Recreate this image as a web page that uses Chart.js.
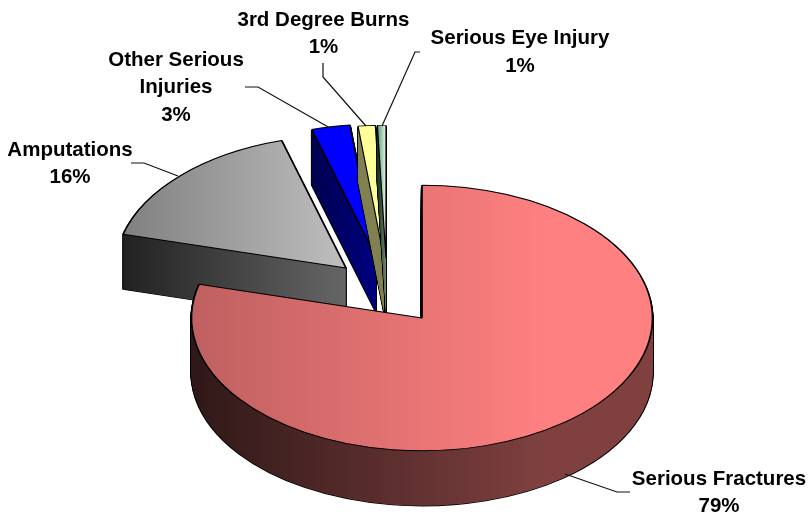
<!DOCTYPE html>
<html lang="en">

<head>
  <script src="https://cdn.jsdelivr.net/npm/chart.js@4"></script>
  <style>
    html, body {
      margin: 0;
      padding: 0;
      background: #fff;
      overflow: hidden;
    }
    canvas {
      display: block;
    }
  </style>
</head>

<body>
  <canvas id="injuryPie" width="809" height="517"></canvas>

  <script>
    // the labels show them rounded
    const categories = ['Serious Fractures', 'Amputations', 'Other Serious Injuries', '3rd Degree Burns', 'Serious Eye Injury'];
    const injuryShare = [79.1, 16.4, 2.7, 1.2, 0.6];

    // look of the slices, same order as categories
    const explodeX = [0, -76, -46, -38, -36];
    const explodeY = [0, -50, -61, -60, -60];
    const topColors = [['#bf6060', '#ff8080'], ['#808080', '#bfbfbf'], ['#0000ff', '#0000ff'], ['#ffff99', '#ffff99'], ['#5f9f7f', '#d8f0d8']];
    const sideColors = [['#301818', '#804040'], ['#222222', '#666666'], ['#000050', '#000080'], ['#808050', '#808050'], ['#1a3020', '#668066']];
    const gradientSpan = [[192, 545], [124, 346], [313, 376], [358, 384], [378, 385]];
    const edgeWidth = [1.7, 1.7, 1.7, 1.2, 1.2];

    const squash = 0.576;
    const depth = 55;
    const pieRadius = 230.5;

    // text lines: x centre, y centre; leader: polyline from the label to the slice
    const labelLayout = [
      { x: 719, lines: [{ y: 479 }, { y: 506 }], name: ['Serious Fractures'], leader: [[630, 492], [617, 492], [565, 474]] },
      { x: 70, lines: [{ y: 150 }, { y: 177 }], name: ['Amputations'], leader: [[131, 163], [144, 163], [178, 176]] },
      { x: 176, lines: [{ y: 60 }, { y: 87 }, { y: 115 }], name: ['Other Serious', 'Injuries'], leader: [[245, 87], [258, 87], [330, 128]] },
      { x: 323.5, lines: [{ y: 20 }, { y: 47 }], name: ['3rd Degree Burns'], leader: [[323, 63], [323, 77], [366, 126]] },
      { x: 520, lines: [{ y: 38 }, { y: 66 }], name: ['Serious Eye Injury'], leader: [[420, 52], [415, 52], [382, 126]] }
    ];

    function makeGradient(ctx, colors, i) {
      const g = ctx.createLinearGradient(gradientSpan[i][0] - explodeX[i], 0, gradientSpan[i][1] - explodeX[i], 0);
      g.addColorStop(0, colors[0]);
      g.addColorStop(1, colors[1]);
      return g;
    }

    // draws one arc flattened to an ellipse, moved by the explode offset plus dy
    function drawFlat(ctx, arc, i, dy, opts) {
      const face = Object.create(arc);
      face.options = Object.assign({}, arc.options, opts);
      ctx.save();
      ctx.translate(arc.x + explodeX[i], arc.y + explodeY[i] + dy);
      ctx.scale(1, squash);
      ctx.translate(-arc.x, -arc.y);
      face.draw(ctx);
      ctx.restore();
    }

    const flatPie = {
      id: 'flatPie',
      beforeDatasetDraw(chart) {
        const ctx = chart.ctx;
        const arcs = chart.getDatasetMeta(0).data;
        // back slices first, the big one covers their feet
        [1, 2, 3, 4, 0].forEach(i => {
          const arc = arcs[i];
          const side = makeGradient(ctx, sideColors[i], i);
          for (let dy = depth; dy >= 1; dy--) {
            drawFlat(ctx, arc, i, dy, { backgroundColor: '#000', borderColor: '#000', borderWidth: edgeWidth[i] + 0.5 });
          }
          for (let dy = depth; dy >= 1; dy--) {
            drawFlat(ctx, arc, i, dy, { backgroundColor: side, borderWidth: 0 });
          }
          drawFlat(ctx, arc, i, 0, { backgroundColor: makeGradient(ctx, topColors[i], i), borderColor: '#000', borderWidth: edgeWidth[i] });
        });
        return false;
      },
      afterDraw(chart) {
        const ctx = chart.ctx;
        const total = injuryShare.reduce((a, b) => a + b, 0);
        ctx.save();
        ctx.font = 'bold 20.5px "Liberation Sans", Arial, sans-serif';
        ctx.textAlign = 'center';
        ctx.textBaseline = 'middle';
        ctx.fillStyle = '#000';
        ctx.strokeStyle = '#111';
        ctx.lineWidth = 1.2;
        labelLayout.forEach((lab, i) => {
          const text = lab.name.concat(Math.round(injuryShare[i] / total * 100) + '%');
          text.forEach((t, k) => ctx.fillText(t, lab.x, lab.lines[k].y));
          ctx.beginPath();
          lab.leader.forEach((p, k) => k ? ctx.lineTo(p[0], p[1]) : ctx.moveTo(p[0], p[1]));
          ctx.stroke();
        });
        ctx.restore();
      }
    };

    new Chart(document.getElementById('injuryPie'), {
      type: 'pie',
      data: {
        labels: categories,
        datasets: [{ data: injuryShare, borderWidth: 0 }]
      },
      options: {
        responsive: false,
        animation: false,
        radius: pieRadius,
        // puts the pie centre at 422, 318
        layout: { padding: { left: 35, top: 119 } },
        plugins: {
          legend: { display: false },
          tooltip: { enabled: false }
        }
      },
      plugins: [flatPie]
    });
  </script>
</body>

</html>
